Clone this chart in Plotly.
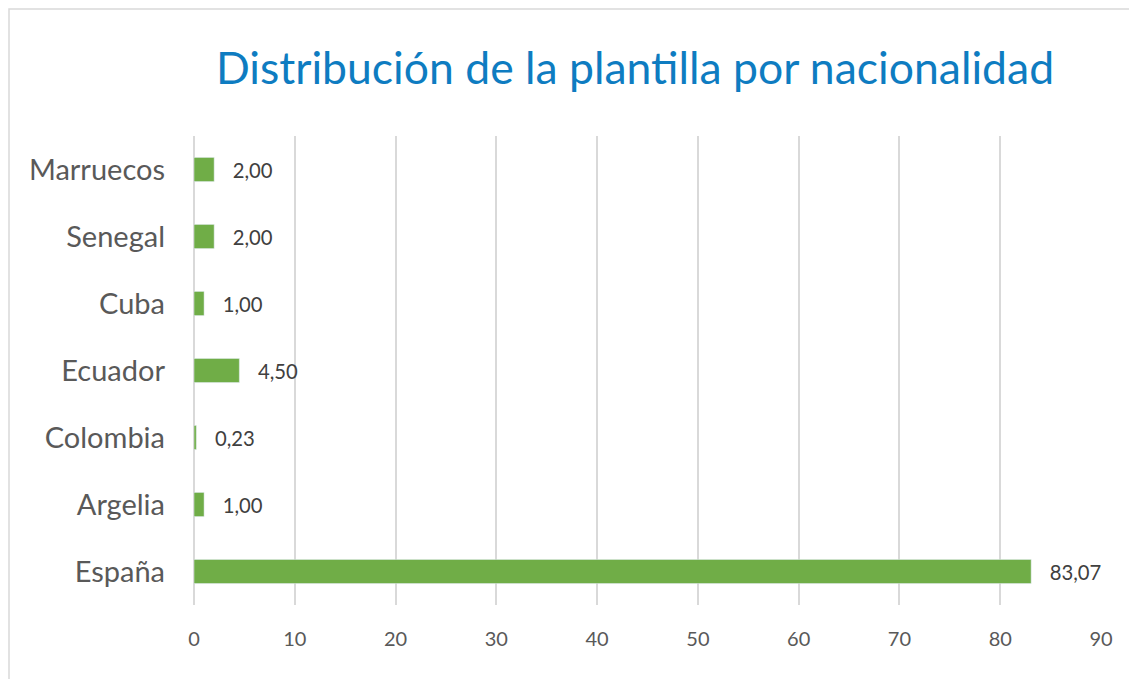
import plotly.graph_objects as go

paises = ["España", "Argelia", "Colombia", "Ecuador", "Cuba", "Senegal", "Marruecos"]
porcentajes = [83.07, 1.00, 0.23, 4.50, 1.00, 2.00, 2.00]
ticks_x = [0, 10, 20, 30, 40, 50, 60, 70, 80, 90]

W, H = 1137, 679
ML, MR, MT, MB = 186, 44, 128, 82
FONT = "Lato, Noto Sans, sans-serif"
GRIS = "#595959"


def etiqueta(v):
    return "{:.2f}".format(v).replace(".", ",")


fig = go.Figure()
fig.add_trace(
    go.Bar(
        x=porcentajes,
        y=paises,
        orientation="h",
        marker_color="#70AD47",
        text=[etiqueta(v) for v in porcentajes],
        texttemplate="\u00a0\u00a0\u00a0%{text}",
        textposition="outside",
        textfont=dict(size=21, color="#404040", family=FONT),
        cliponaxis=False,
        width=0.36,
        hoverinfo="skip",
    )
)

# marco del gráfico (la imagen lo corta a la derecha y abajo)
pw, ph = W - ML - MR, H - MT - MB
fig.add_shape(
    type="rect", xref="paper", yref="paper",
    x0=(1 - ML) / pw, x1=(W + 10 - ML) / pw,
    y0=(H - MB - (H + 10)) / ph, y1=(H - MB - 1) / ph,
    line=dict(color="#D9D9D9", width=1.5), fillcolor="rgba(0,0,0,0)", layer="below",
)

fig.update_layout(
    width=W, height=H,
    margin=dict(l=ML, r=MR, t=MT, b=MB),
    paper_bgcolor="white", plot_bgcolor="white",
    showlegend=False,
    title=dict(
        text="Distribución de la plantilla por nacionalidad",
        x=(215 + 1055) / 2 / W - 8 / W, xanchor="center",
        y=1 - 60 / H, yanchor="middle",
        font=dict(size=44.5, color="#0E7CC1", family=FONT),
    ),
    font=dict(family=FONT, color=GRIS),
)
fig.update_xaxes(
    range=[0, 90], tickvals=ticks_x,
    showgrid=True, gridcolor="#D9D9D9", gridwidth=1.5,
    zeroline=True, zerolinecolor="#D9D9D9", zerolinewidth=1.5,
    showline=False, ticks="",
    tickfont=dict(size=20, color=GRIS),
    ticklabelstandoff=20,
)
fig.update_yaxes(
    showgrid=False, showline=False, ticks="",
    tickfont=dict(size=29, color=GRIS),
    ticklabelstandoff=28,
)

fig.write_html("out.html")
